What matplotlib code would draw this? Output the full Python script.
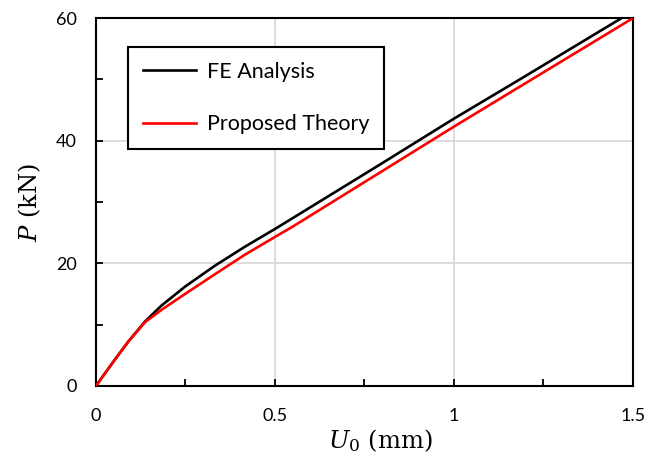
import matplotlib.pyplot as plt
from matplotlib.ticker import MultipleLocator

# values
fe_u0 = [0, 0.053, 0.090, 0.137, 0.183, 0.249, 0.332, 0.416, 0.5, 0.556,
         0.793, 1.0, 1.184, 1.468]
fe_p = [0, 4.3, 7.2, 10.5, 13.1, 16.2, 19.6, 22.7, 25.6, 27.6,
        36.1, 43.6, 50.0, 60.0]

th_u0 = [0, 0.053, 0.090, 0.137, 0.183, 0.249, 0.332, 0.379, 0.416, 0.5,
         0.55, 0.793, 1.0, 1.175, 1.5]
th_p = [0, 4.3, 7.2, 10.4, 12.4, 15.0, 18.2, 20.0, 21.4, 24.3,
        26.0, 34.8, 42.3, 48.5, 60.0]

x_ticks = [0, 0.5, 1, 1.5]
x_labels = ["0", "0.5", "1", "1.5"]
y_ticks = [0, 20, 40, 60]

plt.rcParams["mathtext.fontset"] = "custom"
plt.rcParams["mathtext.rm"] = "DejaVu Serif"
plt.rcParams["mathtext.it"] = "DejaVu Serif:italic"

fig = plt.figure(figsize=(6.62, 4.66), dpi=100)
ax = fig.add_axes([0.145, 0.172, 0.811, 0.789])

ax.plot(fe_u0, fe_p, color="black", lw=1.9, label="FE Analysis", zorder=3)
ax.plot(th_u0, th_p, color="#ff0000", lw=1.9, label="Proposed Theory", zorder=4)

ax.set_xlim(0, 1.5)
ax.set_ylim(0, 60)
ax.set_xticks(x_ticks)
ax.set_xticklabels(x_labels)
ax.set_yticks(y_ticks)
ax.xaxis.set_minor_locator(MultipleLocator(0.25))
ax.yaxis.set_minor_locator(MultipleLocator(10))
ax.grid(True, which="major", color="#d9d9d9", lw=1.3, zorder=0)
ax.set_axisbelow(True)

for s in ax.spines.values():
    s.set_linewidth(1.5)
    s.set_color("black")

ax.tick_params(axis="both", which="both", direction="in", length=5, width=1.3,
               labelsize=13, colors="black")
ax.tick_params(axis="x", which="major", pad=16)
ax.tick_params(axis="y", which="major", pad=14)
for lab in ax.get_xticklabels() + ax.get_yticklabels():
    lab.set_fontfamily("Lato")

ax.set_xlabel(r"$\mathit{U_0}$ (mm)", fontsize=17.5, family="DejaVu Serif")
ax.set_ylabel(r"$\mathit{P}$ (kN)", fontsize=17.5, family="DejaVu Serif")
ax.xaxis.set_label_coords(0.529, -0.112)
ax.yaxis.set_label_coords(-0.099, 0.5)

leg = ax.legend(loc="upper left", bbox_to_anchor=(0.06, 0.922), borderaxespad=0,
                prop={"family": "Lato", "size": 15.5}, frameon=True, fancybox=False,
                edgecolor="black", handlelength=2.45, handletextpad=0.5,
                labelspacing=1.5, borderpad=0.7)
leg.get_frame().set_linewidth(1.5)
leg.get_frame().set_alpha(1)

fig.savefig("out.png", dpi=100)
